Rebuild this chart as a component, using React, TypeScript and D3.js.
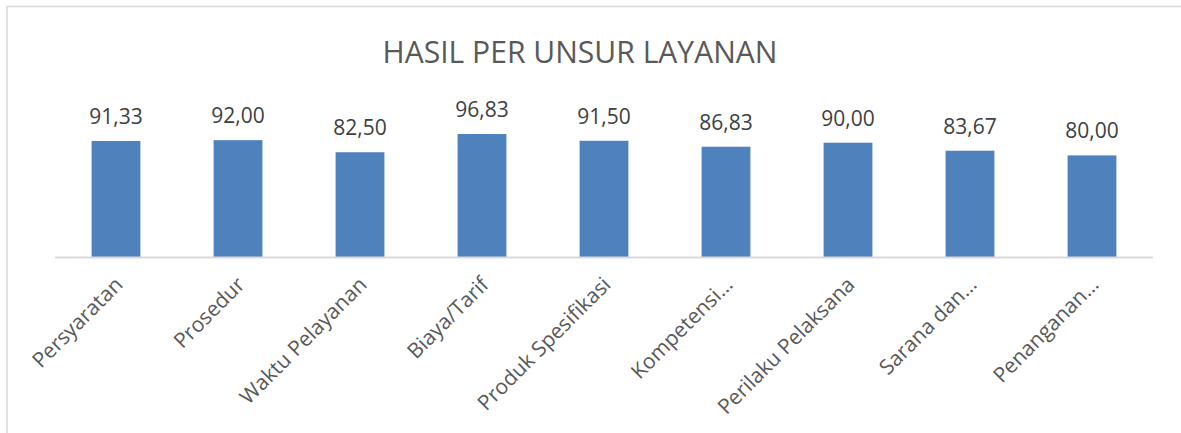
import React from 'react';
import { scaleBand, scaleLinear } from 'd3';

const width = 1181;
const height = 433;

const categories = [
  'Persyaratan',
  'Prosedur',
  'Waktu Pelayanan',
  'Biaya/Tarif',
  'Produk Spesifikasi',
  'Kompetensi…',
  'Perilaku Pelaksana',
  'Sarana dan…',
  'Penanganan…',
];
const values = [91.33, 92.0, 82.5, 96.83, 91.5, 86.83, 90.0, 83.67, 80.0];
const yDomain = [0, 120];

const title = 'HASIL PER UNSUR LAYANAN';
const font = '"Open Sans", Calibri, sans-serif';

const plot = { left: 55, right: 1153, top: 104.6, bottom: 257 };

const fmt = (v: number) => v.toFixed(2).replace('.', ',');

const App = () => {
  const xScale = scaleBand<string>()
    .domain(categories)
    .range([plot.left, plot.right])
    .padding(0);

  const yScale = scaleLinear()
    .domain(yDomain)
    .range([plot.bottom, plot.top]);

  const barW = xScale.bandwidth() * 0.4;

  return (
    <svg
      width={width}
      height={height}
      style={{ position: 'absolute', left: 0, top: 0, background: '#fff' }}
    >
      <rect x={7} y={6.5} width={1190} height={450} fill="#fff" stroke="#d9d9d9" strokeWidth={1.5} />

      <text
        x={580}
        y={63}
        textAnchor="middle"
        fontFamily={font}
        fontSize={31}
        fill="#595959"
        textLength={395}
        lengthAdjust="spacingAndGlyphs"
      >
        {title}
      </text>

      {categories.map((c, i) => {
        const cx = xScale(c)! + xScale.bandwidth() / 2;
        const y = yScale(values[i]);
        return (
          <g key={c}>
            <rect
              x={cx - barW / 2}
              y={y}
              width={barW}
              height={plot.bottom - y}
              fill="#4f81bd"
            />
            <text
              x={cx}
              y={y - 17}
              textAnchor="middle"
              fontFamily={font}
              fontSize={21}
              fill="#404040"
            >
              {fmt(values[i])}
            </text>
          </g>
        );
      })}

      <line
        x1={plot.left}
        x2={plot.right}
        y1={plot.bottom + 0.5}
        y2={plot.bottom + 0.5}
        stroke="#d9d9d9"
        strokeWidth={2}
      />

      {categories.map(c => {
        const cx = xScale(c)! + xScale.bandwidth() / 2;
        return (
          <text
            key={c}
            transform={`translate(${cx + 8}, 286) rotate(-45)`}
            textAnchor="end"
            fontFamily={font}
            fontSize={21}
            fill="#595959"
          >
            {c}
          </text>
        );
      })}
    </svg>
  );
};

export default App;
